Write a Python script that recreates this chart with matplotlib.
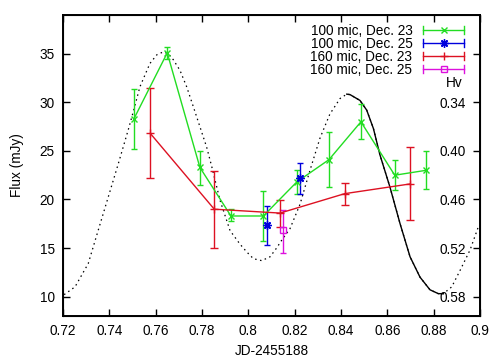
import matplotlib
matplotlib.use("Agg")
from matplotlib import pyplot as plt
from matplotlib.lines import Line2D
from matplotlib.legend_handler import HandlerBase

# 100 mic, Dec. 23
g_x = [0.7506, 0.765, 0.7791, 0.7925, 0.8065, 0.8209, 0.8348, 0.8486, 0.8632, 0.8766]
g_y = [28.3, 35.1, 23.3, 18.3, 18.3, 21.8, 24.1, 28.0, 22.5, 23.0]
g_lo = [25.2, 34.5, 21.5, 17.8, 15.75, 20.6, 21.25, 26.2, 21.0, 21.1]
g_hi = [31.4, 35.7, 25.0, 19.0, 20.9, 23.0, 27.0, 29.8, 24.1, 25.0]

# 100 mic, Dec. 25
b_x = [0.8082, 0.8223]
b_y = [17.4, 22.2]
b_lo = [15.3, 20.6]
b_hi = [19.36, 23.8]

# 160 mic, Dec. 23
r_x = [0.7577, 0.7853, 0.8137, 0.8416, 0.8698]
r_y = [26.8, 19.0, 18.6, 20.6, 21.6]
r_lo = [22.2, 15.0, 17.2, 19.4, 17.9]
r_hi = [31.45, 22.9, 19.9, 21.7, 25.4]

# 160 mic, Dec. 25
m_x = [0.8151]
m_y = [16.9]
m_lo = [14.5]
m_hi = [18.9]

# model light curve (dotted)
mod_x = [0.7205, 0.7252, 0.7309, 0.7353, 0.7396, 0.7439, 0.7482, 0.7503, 0.7532,
         0.7575, 0.7605, 0.7633, 0.7655, 0.7676, 0.7705, 0.7734, 0.7762, 0.7791,
         0.782, 0.7842, 0.7878, 0.7921, 0.7964, 0.7993, 0.8022, 0.8058, 0.8094,
         0.8122, 0.8144, 0.818, 0.8223, 0.8266, 0.8309, 0.8352, 0.8396, 0.8425,
         0.8439, 0.8482, 0.8511, 0.854, 0.8568, 0.8611, 0.8655, 0.8698, 0.8741,
         0.8784, 0.882, 0.8842, 0.8878, 0.8914, 0.8957, 0.8993]
mod_y = [10.2, 11.0, 13.4, 16.9, 20.3, 23.7, 27.2, 29.0, 31.6,
         34.0, 34.9, 35.2, 35.0, 34.4, 33.3, 31.6, 29.6, 27.5,
         25.4, 23.4, 19.9, 16.8, 15.4, 14.6, 13.9, 13.7, 14.1,
         15.0, 15.8, 17.0, 19.5, 23.0, 26.3, 28.8, 30.4, 30.85,
         30.8, 30.2, 29.2, 27.3, 24.6, 21.3, 17.5, 14.1, 12.0,
         10.7, 10.3, 10.3, 11.0, 12.7, 14.8, 17.2]
# part of the model covered by observations (solid)
sol_x = [0.8425, 0.8439, 0.8482, 0.8511, 0.854, 0.8568, 0.8611, 0.8655, 0.8698,
         0.8741, 0.8784, 0.882, 0.8842]
sol_y = [30.85, 30.8, 30.2, 29.2, 27.3, 24.6, 21.3, 17.5, 14.1,
         12.0, 10.7, 10.3, 10.3]

xticks = [0.72, 0.74, 0.76, 0.78, 0.80, 0.82, 0.84, 0.86, 0.88, 0.90]
xtick_labels = ["0.72", "0.74", "0.76", "0.78", "0.8", "0.82", "0.84", "0.86", "0.88", "0.9"]
yticks = [10, 15, 20, 25, 30, 35]
hv_ticks = [0.28, 0.34, 0.40, 0.46, 0.52, 0.58]
hv_labels = ["", "0.34", "0.40", "0.46", "0.52", "0.58"]

plt.rcParams["font.family"] = ["Liberation Sans", "DejaVu Sans"]
plt.rcParams["font.size"] = 9.8

fig = plt.figure(figsize=(5.03, 3.59), dpi=100)
ax = fig.add_axes([0.1252, 0.1198, 0.8291, 0.8384])

ax.plot(mod_x, mod_y, color="black", lw=0.9, ls=(0, (1.2, 2.8)))
ax.plot(sol_x, sol_y, color="black", lw=1.0)

green = "#22dd22"
blue = "#0000dd"
red = "#dd1122"
magenta = "#dd11dd"


def errs(y, lo, hi):
    return [[v - l for v, l in zip(y, lo)], [h - v for v, h in zip(y, hi)]]


ax.errorbar(g_x, g_y, yerr=errs(g_y, g_lo, g_hi), color=green, lw=1, marker="x",
            ms=5, mew=1, capsize=2.3, elinewidth=1)
ax.errorbar(r_x, r_y, yerr=errs(r_y, r_lo, r_hi), color=red, lw=1, marker="+",
            ms=6, mew=1, capsize=2.6, elinewidth=1)
ax.errorbar(b_x, b_y, yerr=errs(b_y, b_lo, b_hi), color=blue, ls="none",
            marker=(8, 2, 0), ms=6, mew=1, capsize=2.3, elinewidth=1)
ax.errorbar(m_x, m_y, yerr=errs(m_y, m_lo, m_hi), color=magenta, ls="none",
            marker="s", ms=5, mfc="none", mew=1, capsize=2.3, elinewidth=1)

ax.set_xlim(0.72, 0.9)
ax.set_ylim(8, 39)
ax.set_xticks(xticks)
ax.set_xticklabels(xtick_labels)
ax.set_yticks(yticks)
ax.tick_params(direction="in", length=5, width=1, top=True, right=False, pad=6)
ax.tick_params(axis="x", pad=6)
for s in ax.spines.values():
    s.set_linewidth(1.4)
ax.set_xlabel("JD-2455188", labelpad=4)
ax.set_ylabel("Flux (mJy)", labelpad=11)

# Hv axis: Hv = 0.34 + (30 - flux) * 0.012
ax2 = ax.twinx()
ax2.set_ylim(0.34 + (30 - 8) * 0.012, 0.34 + (30 - 39) * 0.012)
ax2.set_yticks(hv_ticks)
ax2.set_yticklabels(hv_labels)
ax2.tick_params(direction="in", length=5, width=1, pad=-10)
for lab in ax2.get_yticklabels():
    lab.set_horizontalalignment("right")
ax.text(0.959, 0.774, "Hv", transform=ax.transAxes, ha="right", va="center")


class ErrKey(HandlerBase):
    def create_artists(self, legend, orig_handle, xdescent, ydescent, width,
                       height, fontsize, trans):
        c = orig_handle.get_color()
        y = height / 2 - ydescent
        x0, x1 = -xdescent, width - xdescent
        arts = [Line2D([x0, x1], [y, y], color=c, lw=1),
                Line2D([x0, x0], [y - 3, y + 3], color=c, lw=1),
                Line2D([x1, x1], [y - 3, y + 3], color=c, lw=1),
                Line2D([(x0 + x1) / 2], [y], color=c, ls="none",
                       marker=orig_handle.get_marker(), ms=orig_handle.get_markersize(),
                       mfc="none", mec=c, mew=1)]
        for a in arts:
            a.set_transform(trans)
        return arts


handles = [Line2D([], [], color=green, marker="x", ms=5),
           Line2D([], [], color=blue, marker=(8, 2, 0), ms=6),
           Line2D([], [], color=red, marker="+", ms=6),
           Line2D([], [], color=magenta, marker="s", ms=5)]
labels = ["100 mic, Dec. 23", "100 mic, Dec. 25", "160 mic, Dec. 23", "160 mic, Dec. 25"]
ax2.legend(handles, labels, handler_map={Line2D: ErrKey()}, loc="upper right",
           bbox_to_anchor=(0.962, 0.97), frameon=False, markerfirst=False,
           handlelength=3.0, handletextpad=0.8, labelspacing=-0.08,
           borderpad=0, borderaxespad=0)

fig.savefig("out.png", dpi=100)
